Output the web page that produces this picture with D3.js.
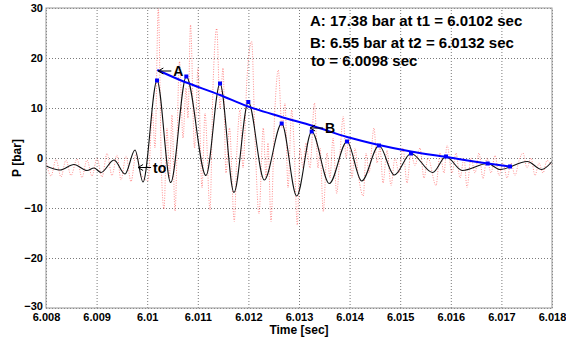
<!DOCTYPE html>
<html>
<head>
<meta charset="utf-8">
<script src="https://cdn.jsdelivr.net/npm/d3@7"></script>
<style>
  body { margin: 0; background: #fff; }
  svg text { font-family: "Liberation Sans", Arial, sans-serif; font-weight: bold; fill: #000; }
</style>
</head>
<body>
<svg id="chart" width="566" height="339"></svg>
<script>
// time offsets are in ms after T0 (seconds)
const T0 = 6.008

const xTicks = [6.008, 6.009, 6.01, 6.011, 6.012, 6.013, 6.014, 6.015, 6.016, 6.017, 6.018]
const xTickLabels = ['6.008', '6.009', '6.01', '6.011', '6.012', '6.013', '6.014', '6.015', '6.016', '6.017', '6.018']
const yTicks = [-30, -20, -10, 0, 10, 20, 30]

// filtered pressure signal (black)
const blackMs = [0, 0.277, 0.553, 0.81, 0.949, 1.087, 1.344, 1.561, 1.759, 1.917,
  2.194, 2.464, 2.773, 3.162, 3.439, 3.715, 3.998, 4.314, 4.658, 4.955,
  5.251, 5.599, 5.949, 6.239, 6.581, 6.883, 7.213, 7.642, 7.905, 8.227,
  8.729, 8.972, 9.512, 9.796, 10.0]
const blackP = [-1.6, -2.4, -1.3, -2.5, -2.0, -2.9, -0.4, -3.2, 1.6, -4.8,
  15.5, -4.9, 16.3, -3.5, 14.9, -6.9, 11.2, -4.4, 6.9, -7.6,
  5.3, -5.1, 3.3, -4.6, 2.5, -3.4, 0.9, -2.9, 0.3, -2.5,
  -1.1, -2.3, -0.7, -2.3, -0.7]

// raw pressure signal (red dotted)
const redMs = [0, 0.099, 0.198, 0.296, 0.395, 0.494, 0.613, 0.711, 0.81, 0.909,
  1.008, 1.107, 1.206, 1.304, 1.403, 1.482, 1.581, 1.68, 1.779, 1.877,
  2.016, 2.105, 2.154, 2.219, 2.283, 2.332, 2.391, 2.441, 2.49, 2.549,
  2.638, 2.708, 2.767, 2.806, 2.856, 2.935, 3.004, 3.083, 3.142, 3.241,
  3.3, 3.374, 3.439, 3.498, 3.557, 3.626, 3.721, 3.775, 3.834, 3.893,
  3.972, 4.065, 4.13, 4.209, 4.294, 4.348, 4.387, 4.447, 4.516, 4.591,
  4.664, 4.723, 4.783, 4.856, 4.901, 4.966, 5.02, 5.079, 5.138, 5.217,
  5.306, 5.375, 5.415, 5.48, 5.553, 5.613, 5.672, 5.745, 5.81, 5.875,
  5.929, 5.988, 6.047, 6.107, 6.166, 6.271, 6.324, 6.383, 6.482, 6.542,
  6.601, 6.66, 6.739, 6.818, 6.897, 6.976, 7.055, 7.134, 7.213, 7.292,
  7.391, 7.47, 7.549, 7.708, 7.787, 7.866, 7.925, 8.024, 8.103, 8.182,
  8.261, 8.32, 8.399, 8.478, 8.557, 8.636, 8.715, 8.794, 8.874, 8.953,
  9.032, 9.111, 9.19, 9.269, 9.348, 9.427, 9.506, 9.585, 9.664, 9.743,
  9.822, 9.901, 10.0]
const redP = [-0.5, -3.6, -0.3, -3.8, -0.4, -3.5, -0.2, -3.9, -0.4, -3.6,
  -0.1, -3.8, 0.9, -3.5, 0.6, -4.4, 0.4, -4.7, 0.8, -3.2,
  -4.5, 9, 2, 30, -3, -10.2, 6, -4, 8.6, -10.6,
  19.3, 4, 14, 8, 26.6, 2, 18, -6, 9, -10.4,
  14, 25.9, 10, 18, -3, 6, -12.7, 2, 9.6, -2,
  16, 23.3, 4, -11.2, 6, -4, 3, -12.7, 8, 17.6,
  6, 11, -6, 9.6, 3, -13.4, 2, -2, 3, -2,
  11, -2, 2, -10.7, 1, -4, 4, -7.1, 1, 8.3,
  0, 4, -4, 2, -3, -7.6, 1, -3, 6, -1,
  2, -5, 1.5, -5.5, 0, -3, 2, -5, 1, -1.5,
  2, -4, 0, -5.5, 1, -3, 2.6, -3, 1, -4,
  0, -5.9, 0, -3, 1, -4.1, 0, -3, 0.5, -3.5,
  -1, -4, -1, -3.5, -0.5, 1, -2, 0, -3.5, -1,
  -3, -0.5, -1.5]

// decay fit through the peaks (blue)
const fitMs = [2.2, 2.648, 3.439, 3.966, 4.625, 5.277, 5.949, 6.581, 7.213, 7.905, 8.735, 9.17]
const fitP = [17.6, 15.6, 12.6, 10.4, 8.3, 6.4, 4.2, 2.6, 1.3, 0.2, -1.1, -1.7]

// detected peaks (blue squares)
const peakMs = [2.194, 2.773, 3.439, 3.998, 4.658, 5.251, 5.949, 6.581, 7.213, 7.905, 8.729, 9.17]
const peakP = [15.5, 16.3, 14.9, 11.2, 6.9, 5.3, 3.3, 2.5, 0.9, 0.3, -1.1, -1.7]

// arrow annotations
const annLabels = ['A', 'B', 'to']
const annT = [6.0102, 6.0132, 6.0098]
const annP = [17.4, 6.0, -1.9]

const infoLines = [
  'A: 17.38 bar at t1 = 6.0102 sec',
  'B: 6.55 bar at t2 = 6.0132 sec',
  'to = 6.0098 sec'
]

const margin = { top: 8, right: 14, bottom: 31, left: 46 }
const W = 566, H = 339
const svg = d3.select('#chart')

const x = d3.scaleLinear().domain([6.008, 6.018]).range([margin.left, W - margin.right])
const y = d3.scaleLinear().domain([-30, 30]).range([H - margin.bottom, margin.top])
const plotW = x.range()[1] - x.range()[0]
const plotH = y.range()[0] - y.range()[1]

svg.append('clipPath').attr('id', 'clip')
  .append('rect')
  .attr('x', margin.left).attr('y', margin.top)
  .attr('width', plotW).attr('height', plotH)

// grid + tick labels
const gx = svg.append('g')
  .attr('transform', `translate(0,${y.range()[0]})`)
  .call(d3.axisBottom(x).tickValues(xTicks)
    .tickFormat((d, i) => xTickLabels[i])
    .tickSize(-plotH).tickPadding(5))
const gy = svg.append('g')
  .attr('transform', `translate(${margin.left},0)`)
  .call(d3.axisLeft(y).tickValues(yTicks).tickSize(-plotW).tickPadding(3))

;[gx, gy].forEach(g => {
  g.attr('font-size', 11).attr('font-family', null)
  g.select('.domain').remove()
  g.selectAll('.tick line')
    .attr('stroke', '#7a7a7a')
    .attr('stroke-width', 1)
    .attr('stroke-dasharray', '1,2')
  g.selectAll('.tick text').attr('fill', '#000')
})
// the lowest y label sits just above the corner, as in the original
gy.selectAll('.tick text').filter(d => d === -30).attr('dy', '0.1em')

const plot = svg.append('g').attr('clip-path', 'url(#clip)')
const toT = ms => T0 + ms / 1000

const line = d3.line()
  .x(d => x(d[0]))
  .y(d => y(d[1]))
  .curve(d3.curveMonotoneX)

plot.append('path')
  .datum(redMs.map((m, i) => [toT(m), redP[i]]))
  .attr('d', line)
  .attr('fill', 'none')
  .attr('stroke', '#ff4040')
  .attr('stroke-opacity', 0.85)
  .attr('stroke-width', 0.7)
  .attr('stroke-dasharray', '1,1.5')

plot.append('path')
  .datum(blackMs.map((m, i) => [toT(m), blackP[i]]))
  .attr('d', line)
  .attr('fill', 'none')
  .attr('stroke', '#111')
  .attr('stroke-width', 1.1)

plot.append('path')
  .datum(fitMs.map((m, i) => [toT(m), fitP[i]]))
  .attr('d', line)
  .attr('fill', 'none')
  .attr('stroke', '#0000ff')
  .attr('stroke-width', 2)

plot.selectAll('rect.peak')
  .data(peakMs.map((m, i) => [toT(m), peakP[i]]))
  .join('rect')
  .attr('class', 'peak')
  .attr('x', d => x(d[0]) - 2)
  .attr('y', d => y(d[1]) - 2)
  .attr('width', 4)
  .attr('height', 4)
  .attr('fill', '#0000ff')

// axes box
svg.append('rect')
  .attr('x', margin.left).attr('y', margin.top)
  .attr('width', plotW).attr('height', plotH)
  .attr('fill', 'none')
  .attr('stroke', '#999')
  .attr('stroke-width', 1)

// arrows with labels
const ann = svg.append('g')
annLabels.forEach((lab, i) => {
  const ax = x(annT[i]) + 1
  const ay = y(annP[i])
  ann.append('path')
    .attr('d', `M${ax + 13},${ay}H${ax}M${ax + 5},${ay - 3}L${ax},${ay}L${ax + 5},${ay + 3}`)
    .attr('fill', 'none')
    .attr('stroke', '#000')
    .attr('stroke-width', 1)
  ann.append('text')
    .attr('x', ax + 15)
    .attr('y', ay + 5)
    .attr('font-size', 14)
    .text(lab)
})

// info text
svg.append('g').selectAll('text')
  .data(infoLines)
  .join('text')
  .attr('x', (d, i) => i === 2 ? 311 : 310)
  .attr('y', (d, i) => [26, 48, 66][i])
  .attr('font-size', 15)
  .text(d => d)

svg.append('text')
  .attr('x', (x.range()[0] + x.range()[1]) / 2)
  .attr('y', 334)
  .attr('text-anchor', 'middle')
  .attr('font-size', 12)
  .text('Time [sec]')

svg.append('text')
  .attr('transform', `translate(21,${y(0)}) rotate(-90)`)
  .attr('text-anchor', 'middle')
  .attr('font-size', 12)
  .text('P [bar]')
</script>
</body>
</html>
